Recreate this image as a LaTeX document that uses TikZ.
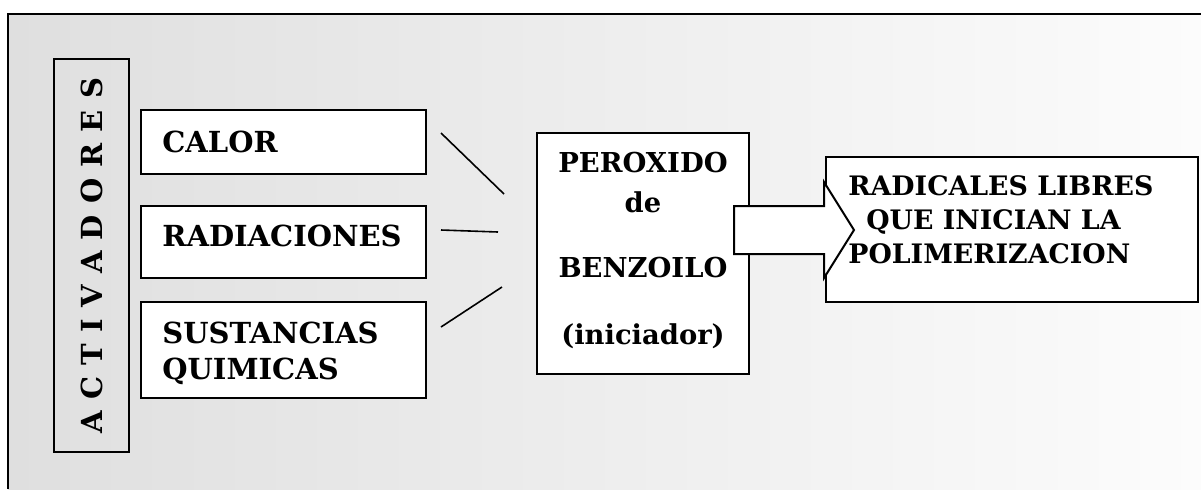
\documentclass[tikz,border=0pt]{standalone}
\usepackage{fontspec}
\setmainfont{DejaVu Serif}
\definecolor{bgleft}{RGB}{223,223,223}
\definecolor{bgright}{RGB}{252,252,252}
\newcommand\lgap{\hspace{5.6pt}}
\begin{document}
\begin{tikzpicture}[x=0.5pt,y=-0.5pt,
  box/.style={draw=black,line width=1pt,fill=white,inner sep=0pt},
  frame/.style={draw=black,line width=1pt,inner sep=0pt},
  link/.style={draw=black,line width=0.8pt},
  txt/.style={inner sep=0pt},
  bigfont/.style={font=\bfseries\fontsize{14.5}{18}\selectfont},
  midfont/.style={font=\bfseries\fontsize{13.7}{20}\selectfont},
  smallfont/.style={font=\bfseries\fontsize{13.4}{17}\selectfont}]
\useasboundingbox (0,0) rectangle (1201,489);

% shaded panel with its left and top border
\shade[left color=bgleft,right color=bgright] (8,14) rectangle (1201,489);
\draw[line width=1pt] (8,489) -- (8,14) -- (1201,14);

% vertical label box
\node[frame,rotate=90,minimum width=196.5pt,minimum height=37.5pt,bigfont]
  (act) at (91.5,255.5) {A\lgap C\lgap T\lgap I\lgap V\lgap A\lgap D\lgap O\lgap R\lgap E\lgap S};

% activator boxes
\node[box,minimum width=142.5pt,minimum height=32pt] (calor) at (283.5,142) {};
\node[box,minimum width=142.5pt,minimum height=36pt] (rad) at (283.5,242) {};
\node[box,minimum width=142.5pt,minimum height=48pt] (sus) at (283.5,350) {};
\node[txt,bigfont,anchor=base west] (tcalor) at (162,152) {CALOR};
\node[txt,bigfont,anchor=base west] (trad) at (162,246) {RADIACIONES};
% multi-line texts: the base anchor sits on the last line
\node[txt,bigfont,anchor=base west,align=left] (tsus) at (162,379) {SUSTANCIAS\\QUIMICAS};

% initiator box
\node[box,minimum width=106pt,minimum height=120.5pt] (per) at (643,253.5) {};
\node[txt,midfont,anchor=base,align=center] (tper) at (643,344)
  {PEROXIDO\\de\\[12.5pt]BENZOILO\\[13.5pt](iniciador)};

% result box
\node[box,minimum width=186pt,minimum height=72.5pt] (res) at (1012,229.5) {};
\node[txt,smallfont,anchor=base west,align=left] (tres) at (848,263)
  {RADICALES LIBRES\\\hspace*{9pt}QUE INICIAN LA\\POLIMERIZACION};

% short strokes from the activators towards the initiator
\coordinate (l1a) at (441,133); \coordinate (l1b) at (504,194);
\coordinate (l2a) at (441,230); \coordinate (l2b) at (498,232);
\coordinate (l3a) at (441,327); \coordinate (l3b) at (502,287);
\draw[link] (l1a) -- (l1b);
\draw[link] (l2a) -- (l2b);
\draw[link] (l3a) -- (l3b);

% block arrow from the initiator to the result
\draw[line width=1pt,fill=white,line join=miter]
  (734,206) -- (824,206) -- (824,182) -- (854,230) -- (824,278) -- (824,254) -- (734,254) -- cycle;
\end{tikzpicture}
\end{document}
